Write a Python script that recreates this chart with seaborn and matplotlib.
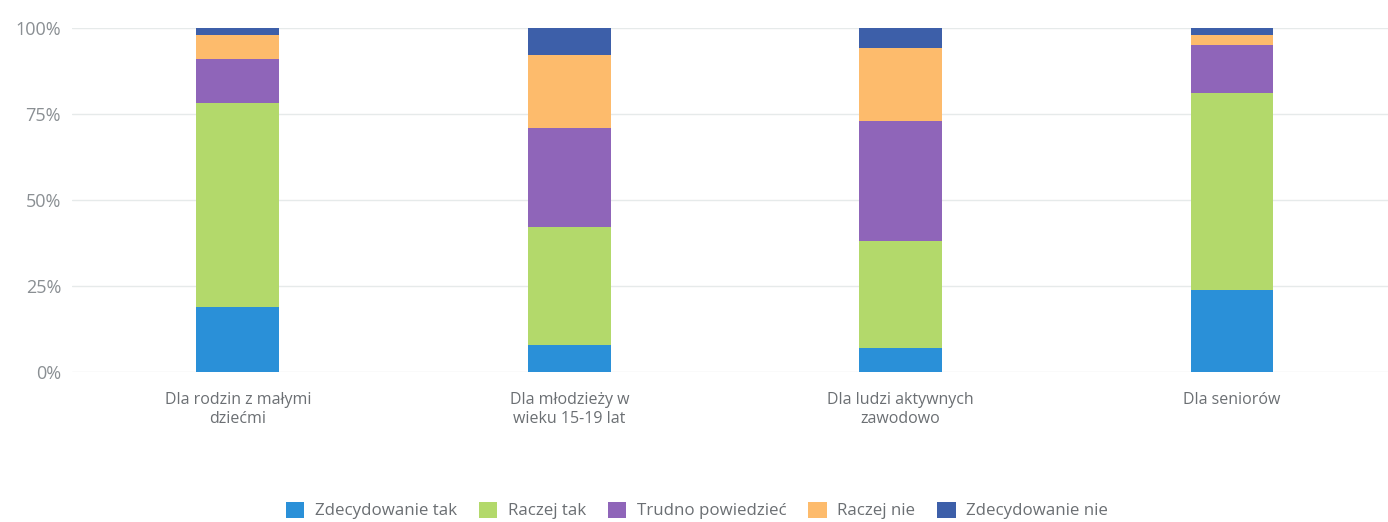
import pandas as pd
import matplotlib.pyplot as plt
import seaborn as sns
from matplotlib.patches import Patch

# dane (w %)
categories = ['Dla rodzin z małymi\ndziećmi', 'Dla młodzieży w\nwieku 15-19 lat',
              'Dla ludzi aktywnych\nzawodowo', 'Dla seniorów']
series = ['Zdecydowanie tak', 'Raczej tak', 'Trudno powiedzieć', 'Raczej nie', 'Zdecydowanie nie']
zdecydowanie_tak = [19, 8, 7, 24]
raczej_tak = [59, 34, 31, 57]
trudno_powiedziec = [13, 29, 35, 14]
raczej_nie = [7, 21, 21, 3]
zdecydowanie_nie = [2, 8, 6, 2]
colors = ['#2a90d8', '#b3d96b', '#8f65b9', '#fdbb6c', '#3d5fa9']

df = pd.DataFrame({
    'kategoria': categories,
    series[0]: zdecydowanie_tak,
    series[1]: raczej_tak,
    series[2]: trudno_powiedziec,
    series[3]: raczej_nie,
    series[4]: zdecydowanie_nie,
})
cum = df[series].cumsum(axis=1)
cum['kategoria'] = df['kategoria']

sns.set_theme(style='whitegrid')
plt.rcParams['font.family'] = ['Open Sans', 'DejaVu Sans']

fig = plt.figure(figsize=(13.88, 5.22), dpi=100)
ax = fig.add_axes([0.052, 0.287, 0.955, 0.66])

# słupki skumulowane: od najwyższej sumy do najniższej
for s, c in reversed(list(zip(series, colors))):
    sns.barplot(data=cum, x='kategoria', y=s, color=c, width=0.25,
                saturation=1, ax=ax, linewidth=0)

ax.set_ylim(0, 100)
ax.set_yticks([0, 25, 50, 75, 100])
ax.set_yticklabels(['0%', '25%', '50%', '75%', '100%'])
ax.set_xlabel('')
ax.set_ylabel('')
ax.grid(axis='x', visible=False)
ax.grid(axis='y', color='#e6eaea', linewidth=1)
for sp in ax.spines.values():
    sp.set_visible(False)
ax.tick_params(axis='y', labelsize=13, labelcolor='#8a8f93', pad=8, length=0)
ax.tick_params(axis='x', labelsize=11.5, labelcolor='#6b6f73', pad=14, length=0)
for t in ax.get_xticklabels():
    t.set_linespacing(1.3)

handles = [Patch(facecolor=c, edgecolor='none') for c in colors]
fig.legend(handles, series, loc='center', bbox_to_anchor=(0.502, 0.022), ncol=5,
           frameon=False, fontsize=12.2, labelcolor='#6b6f73',
           handlelength=1.1, handleheight=1.1, handletextpad=0.6, columnspacing=1.3)

fig.savefig('out.png', dpi=100)
